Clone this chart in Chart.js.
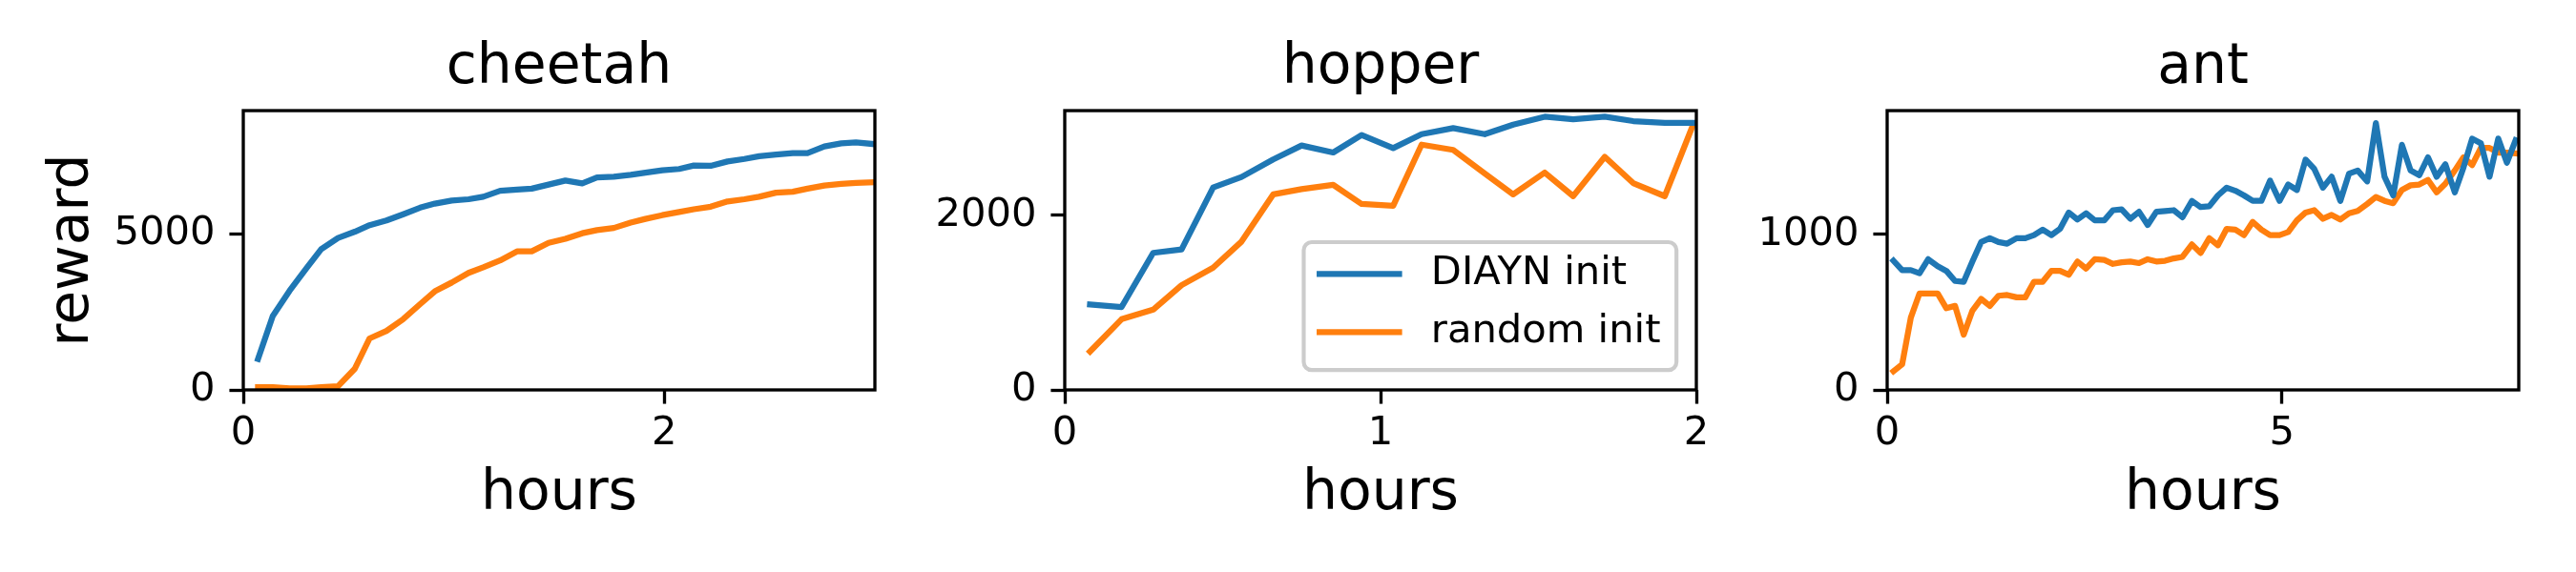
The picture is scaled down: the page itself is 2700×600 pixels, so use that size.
<!DOCTYPE html>
<html>
<head>
<meta charset="utf-8">
<script src="https://cdn.jsdelivr.net/npm/chart.js@4.4.0/dist/chart.umd.min.js"></script>
<style>
  html, body { margin: 0; padding: 0; background: #fff; }
  #figure { position: relative; width: 2700px; height: 600px; background: #fff; }
  #figure canvas { position: absolute; top: 0; }
</style>
</head>
<body>
<div id="figure">
  <canvas id="cheetah" width="960" height="600" style="left:0px"></canvas>
  <canvas id="hopper" width="860" height="600" style="left:960px"></canvas>
  <canvas id="ant" width="880" height="600" style="left:1820px"></canvas>
</div>
<script>
const seriesNames = ["DIAYN init", "random init"];
const seriesColors = ["#1f77b4", "#ff7f0e"];

// cheetah
const cheetahHours = [0.07, 0.14, 0.22, 0.30, 0.37, 0.45, 0.53, 0.60, 0.68, 0.76,
  0.84, 0.91, 0.99, 1.07, 1.14, 1.22, 1.30, 1.37, 1.45, 1.53,
  1.61, 1.68, 1.76, 1.84, 1.91, 1.99, 2.07, 2.14, 2.22, 2.30,
  2.38, 2.45, 2.53, 2.61, 2.68, 2.76, 2.84, 2.91, 2.99];
const cheetahDiayn = [990, 2370, 3180, 3900, 4510, 4870, 5070, 5280, 5430, 5630,
  5840, 5970, 6070, 6110, 6190, 6380, 6420, 6450, 6580, 6710,
  6620, 6810, 6830, 6890, 6960, 7040, 7080, 7190, 7180, 7320,
  7400, 7490, 7540, 7590, 7590, 7800, 7900, 7930, 7880];
const cheetahRandom = [90, 90, 50, 50, 90, 120, 680, 1650, 1890, 2270,
  2750, 3160, 3440, 3750, 3930, 4150, 4440, 4440, 4710, 4840,
  5020, 5120, 5190, 5360, 5480, 5600, 5700, 5790, 5870, 6040,
  6110, 6190, 6320, 6350, 6450, 6550, 6600, 6630, 6650];
const cheetahXTicks = [0, 2];
const cheetahYTicks = [0, 5000];

// hopper
const hopperHours = [0.08, 0.18, 0.28, 0.37, 0.47, 0.56, 0.66, 0.75, 0.85, 0.94,
  1.04, 1.13, 1.23, 1.33, 1.42, 1.52, 1.61, 1.71, 1.80, 1.90, 1.99];
const hopperDiayn = [980, 950, 1570, 1610, 2320, 2440, 2640, 2800, 2720, 2920,
  2770, 2930, 3000, 2930, 3040, 3130, 3100, 3130, 3080, 3060, 3060];
const hopperRandom = [440, 810, 920, 1200, 1400, 1700, 2240, 2300, 2350, 2130,
  2110, 2810, 2750, 2480, 2240, 2490, 2220, 2670, 2370, 2220, 3040];
const hopperXTicks = [0, 1, 2];
const hopperYTicks = [0, 2000];

// ant
const antHours = [0.08, 0.19, 0.30, 0.41, 0.52, 0.64, 0.75, 0.86, 0.97, 1.08,
  1.19, 1.30, 1.41, 1.52, 1.64, 1.75, 1.86, 1.97, 2.08, 2.19,
  2.30, 2.41, 2.52, 2.63, 2.75, 2.86, 2.97, 3.08, 3.19, 3.30,
  3.41, 3.52, 3.63, 3.74, 3.86, 3.97, 4.08, 4.19, 4.30, 4.41,
  4.52, 4.63, 4.74, 4.85, 4.97, 5.08, 5.19, 5.30, 5.41, 5.52,
  5.63, 5.74, 5.85, 5.96, 6.08, 6.19, 6.30, 6.41, 6.52, 6.63,
  6.74, 6.85, 6.96, 7.07, 7.19, 7.30, 7.41, 7.52, 7.63, 7.74,
  7.85, 7.96];
const antDiayn = [830, 770, 770, 750, 840, 795, 765, 700, 695, 825,
  950, 975, 950, 940, 975, 975, 995, 1030, 995, 1035,
  1140, 1095, 1135, 1090, 1090, 1155, 1160, 1100, 1145, 1060,
  1145, 1150, 1155, 1110, 1215, 1175, 1180, 1250, 1300, 1280,
  1250, 1215, 1215, 1345, 1215, 1320, 1285, 1480, 1420, 1300,
  1370, 1215, 1390, 1410, 1340, 1715, 1370, 1250, 1575, 1410,
  1380, 1495, 1370, 1450, 1270, 1430, 1615, 1585, 1370, 1615,
  1460, 1605];
const antRandom = [120, 165, 465, 620, 620, 620, 525, 540, 355, 510,
  585, 540, 605, 610, 595, 595, 695, 695, 765, 765,
  740, 825, 780, 840, 835, 810, 820, 825, 815, 840,
  825, 830, 845, 855, 935, 880, 975, 930, 1035, 1030,
  995, 1080, 1030, 995, 995, 1015, 1090, 1140, 1155, 1100,
  1125, 1095, 1135, 1150, 1195, 1240, 1215, 1200, 1285, 1315,
  1320, 1350, 1270, 1325, 1410, 1495, 1445, 1555, 1555, 1525,
  1525, 1520];
const antXTicks = [0, 5];
const antYTicks = [0, 1000];

const px = 300 / 72; // matplotlib points at 300 dpi
const family = "'DejaVu Sans', sans-serif";
const tickFont = { family: family, size: 10 * px, lineHeight: 1, weight: "normal" };
const labelFont = { family: family, size: 14 * px, lineHeight: 1, weight: "normal" };

function toPoints(xs, ys) {
  return xs.map((x, i) => ({ x: x, y: ys[i] }));
}

// top/right/left/bottom spines drawn over the lines
const frame = {
  id: "frame",
  afterDatasetsDraw(chart) {
    const a = chart.chartArea;
    const ctx = chart.ctx;
    ctx.save();
    ctx.strokeStyle = "#000";
    ctx.lineWidth = 0.8 * px;
    ctx.lineJoin = "miter";
    ctx.strokeRect(a.left, a.top, a.right - a.left, a.bottom - a.top);
    ctx.restore();
  }
};

// matplotlib style legend inside the axes, lower right
const insideLegend = {
  id: "insideLegend",
  afterDraw(chart, args, opts) {
    if (!opts.display) return;
    const ctx = chart.ctx;
    const a = chart.chartArea;
    const fs = tickFont.size;
    const sets = chart.data.datasets;
    ctx.save();
    ctx.font = fs + "px " + family;
    const textW = Math.max(...sets.map(d => ctx.measureText(d.label).width));
    const pad = 0.4 * fs, handle = 2 * fs, gap = 0.8 * fs, rowH = 0.96 * fs, spacing = 0.5 * fs;
    const w = 2 * pad + handle + gap + textW;
    const h = 2 * pad + sets.length * rowH + (sets.length - 1) * spacing;
    const left = a.right - 0.5 * fs - w;
    const top = a.bottom - 0.5 * fs - h;
    const r = 0.2 * fs;

    ctx.beginPath();
    ctx.moveTo(left + r, top);
    ctx.arcTo(left + w, top, left + w, top + h, r);
    ctx.arcTo(left + w, top + h, left, top + h, r);
    ctx.arcTo(left, top + h, left, top, r);
    ctx.arcTo(left, top, left + w, top, r);
    ctx.closePath();
    ctx.fillStyle = "rgba(255,255,255,0.8)";
    ctx.fill();
    ctx.strokeStyle = "#cccccc";
    ctx.lineWidth = px;
    ctx.stroke();

    sets.forEach((d, i) => {
      const cy = top + pad + rowH * 0.42 + i * (rowH + spacing);
      ctx.beginPath();
      ctx.moveTo(left + pad, cy);
      ctx.lineTo(left + pad + handle, cy);
      ctx.strokeStyle = d.borderColor;
      ctx.lineWidth = 1.5 * px;
      ctx.lineCap = "square";
      ctx.stroke();
      ctx.fillStyle = "#000";
      ctx.textAlign = "left";
      ctx.textBaseline = "middle";
      ctx.fillText(d.label, left + pad + handle + gap, cy);
    });
    ctx.restore();
  }
};

function drawPanel(canvasId, p) {
  new Chart(document.getElementById(canvasId), {
    type: "line",
    data: {
      datasets: [
        { label: seriesNames[0], data: toPoints(p.hours, p.diayn), borderColor: seriesColors[0] },
        { label: seriesNames[1], data: toPoints(p.hours, p.random), borderColor: seriesColors[1] }
      ]
    },
    options: {
      responsive: false,
      animation: false,
      devicePixelRatio: 1,
      layout: { padding: { left: 0, right: p.padRight, top: 0, bottom: 0 } },
      elements: {
        point: { radius: 0 },
        line: { borderWidth: 1.5 * px, tension: 0, borderJoinStyle: "round", borderCapStyle: "square", fill: false }
      },
      datasets: { line: { clip: 0 } },
      plugins: {
        legend: { display: false },
        tooltip: { enabled: false },
        title: {
          display: true, text: p.title, fullSize: false, font: labelFont, color: "#000",
          padding: { top: 43, bottom: 14.7 }
        },
        insideLegend: { display: p.legend }
      },
      scales: {
        x: {
          type: "linear", min: 0, max: p.xMax,
          afterBuildTicks: s => { s.ticks = p.xTicks.map(v => ({ value: v })); },
          afterFit: s => { s.height = 191; },
          border: { display: false },
          grid: { display: true, drawOnChartArea: false, drawTicks: true, tickLength: 3.5 * px, tickWidth: 0.8 * px, tickColor: "#000" },
          ticks: { font: tickFont, color: "#000", padding: 10.5, maxRotation: 0, autoSkip: false, callback: v => String(v) },
          title: { display: true, text: "hours", font: labelFont, color: "#000", padding: { top: 0, bottom: 52 } }
        },
        y: {
          type: "linear", min: 0, max: p.yMax,
          afterBuildTicks: s => { s.ticks = p.yTicks.map(v => ({ value: v })); },
          afterFit: s => { s.width = p.yAxisWidth; },
          border: { display: false },
          grid: { display: true, drawOnChartArea: false, drawTicks: true, tickLength: 3.5 * px, tickWidth: 0.8 * px, tickColor: "#000" },
          ticks: { font: tickFont, color: "#000", padding: 15, autoSkip: false, callback: v => String(v) },
          title: { display: !!p.yLabel, text: p.yLabel || "", font: labelFont, color: "#000", padding: { top: 48, bottom: 0 } }
        }
      }
    },
    plugins: [frame, insideLegend]
  });
}

drawPanel("cheetah", {
  title: "cheetah", hours: cheetahHours, diayn: cheetahDiayn, random: cheetahRandom,
  xMax: 3, yMax: 8950, xTicks: cheetahXTicks, yTicks: cheetahYTicks,
  yAxisWidth: 255, padRight: 43, yLabel: "reward", legend: false
});
drawPanel("hopper", {
  title: "hopper", hours: hopperHours, diayn: hopperDiayn, random: hopperRandom,
  xMax: 2, yMax: 3200, xTicks: hopperXTicks, yTicks: hopperYTicks,
  yAxisWidth: 156, padRight: 42, yLabel: null, legend: true
});
drawPanel("ant", {
  title: "ant", hours: antHours, diayn: antDiayn, random: antRandom,
  xMax: 8, yMax: 1795, xTicks: antXTicks, yTicks: antYTicks,
  yAxisWidth: 158, padRight: 60, yLabel: null, legend: false
});
</script>
</body>
</html>
